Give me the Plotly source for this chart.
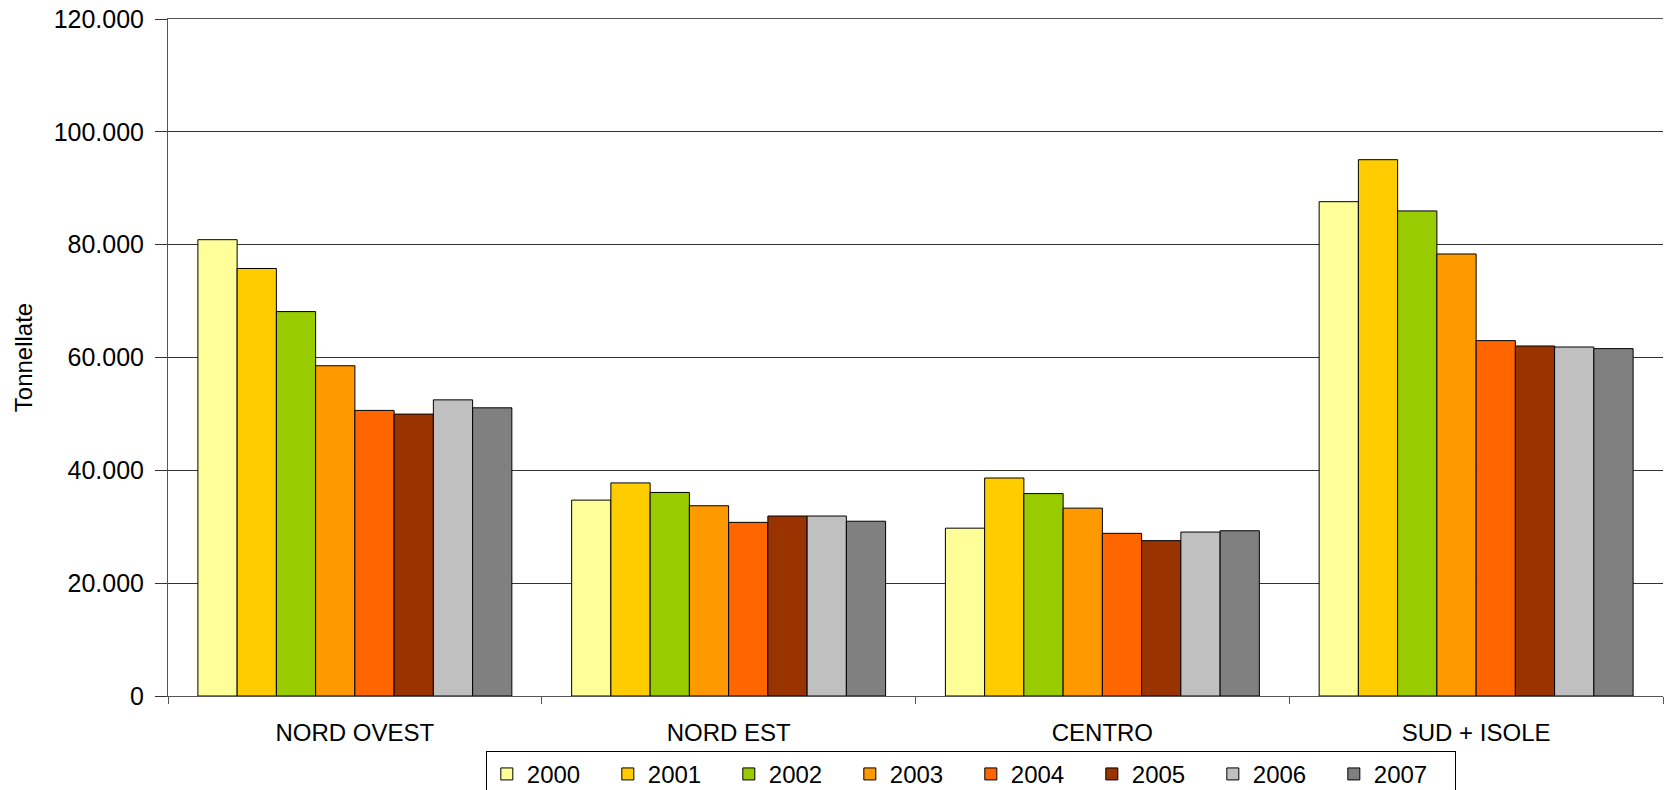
import plotly.graph_objects as go

categories = ["NORD OVEST", "NORD EST", "CENTRO", "SUD + ISOLE"]
years = ["2000", "2001", "2002", "2003", "2004", "2005", "2006", "2007"]
values = {
    "2000": [80880, 34720, 29750, 87620],
    "2001": [75780, 37770, 38640, 95060],
    "2002": [68140, 36080, 35880, 85980],
    "2003": [58540, 33720, 33300, 78350],
    "2004": [50620, 30780, 28830, 62990],
    "2005": [49970, 31900, 27540, 62040],
    "2006": [52490, 31900, 29060, 61860],
    "2007": [51080, 30980, 29290, 61570],
}
colors = ["#FFFF99", "#FFCC00", "#99CC00", "#FF9900", "#FF6600", "#993300", "#C0C0C0", "#808080"]
y_ticks = [0, 20000, 40000, 60000, 80000, 100000, 120000]
y_tick_labels = ["0", "20.000", "40.000", "60.000", "80.000", "100.000", "120.000"]

fig = go.Figure()
for yr, col in zip(years, colors):
    fig.add_trace(go.Bar(
        name=yr, x=categories, y=values[yr],
        marker=dict(color=col, line=dict(color="#000000", width=1)),
    ))

font = "Liberation Sans, Arial, sans-serif"
fig.update_layout(
    width=1668, height=790,
    margin=dict(l=168, r=5, t=19, b=94, autoexpand=False),
    paper_bgcolor="white", plot_bgcolor="white",
    barmode="group", bargap=0.16, bargroupgap=0,
    font=dict(family=font, color="#000000"),
    showlegend=True,
    legend=dict(
        orientation="h", x=0.537, xanchor="center", y=-0.081, yanchor="top",
        bordercolor="#000000", borderwidth=1, bgcolor="white",
        font=dict(size=24, family=font),
        entrywidth=76, itemwidth=30, traceorder="normal",
    ),
    xaxis=dict(
        type="category", tickson="boundaries", ticks="outside", ticklen=7,
        tickcolor="#555555", showline=True, linecolor="#555555", linewidth=1,
        mirror=True,
        tickfont=dict(size=24, family=font), showgrid=False,
        ticklabelstandoff=15,
    ),
    yaxis=dict(
        range=[0, 120000], tickvals=y_ticks, ticktext=y_tick_labels,
        ticks="outside", ticklen=12, tickcolor="#333333",
        showline=True, linecolor="#555555", linewidth=1,
        showgrid=True, gridcolor="#333333", gridwidth=1,
        tickfont=dict(size=25, family=font), ticklabelstandoff=6,
        ticklabeloverflow="allow",
        title=dict(text="Tonnellate", font=dict(size=24, family=font), standoff=14),
        zeroline=False,
    ),
)
fig.write_html(
    "out.html",
    config={"displayModeBar": False},
    post_script="document.body.style.margin='0';",
)
